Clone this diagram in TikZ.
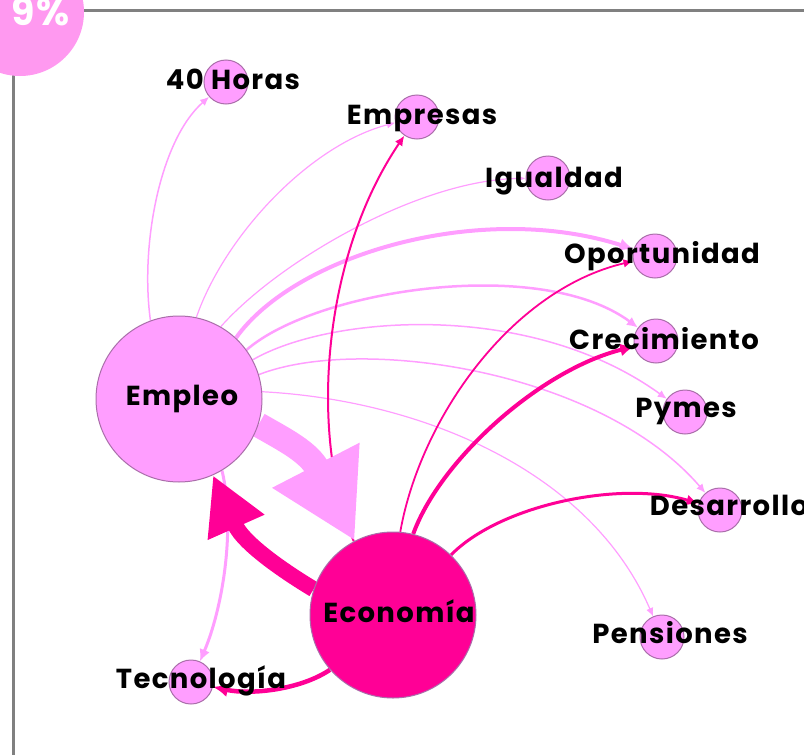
\documentclass[tikz,border=0pt]{standalone}
\usepackage{fontspec}
\newfontfamily\netfont{Poppins}[LetterSpace=5]
\usetikzlibrary{arrows.meta}
\pgfdeclarelayer{fondo}
\pgfsetlayers{fondo,main}

\definecolor{rosa}{RGB}{255,158,255}
\definecolor{fucsia}{RGB}{255,0,150}
\definecolor{borde}{RGB}{170,110,170}
\definecolor{marco}{RGB}{128,128,128}
\definecolor{insignia}{RGB}{255,153,240}

\begin{document}
\begin{tikzpicture}[
        x=1pt, y=-1pt, % координаты в пикселях, ось y вниз
        nucleo/.style={circle, draw=borde, line width=1pt, minimum size=166pt, inner sep=0pt}, % большие узлы
        tema/.style={circle, draw=borde, line width=1pt, fill=rosa, minimum size=44pt, inner sep=0pt}, % малые узлы
        rotulo/.style={anchor=base, inner sep=0pt, font=\netfont\bfseries\fontsize{27.5}{30}\selectfont},
        punta/.style={-{Latex[length=6pt 2, width=5pt 2]}},
        claro/.style={draw=rosa, punta},
        oscuro/.style={draw=fucsia, punta},
    ]
    \useasboundingbox (0,0) rectangle (804,755);

    % рамка и значок
    \draw[marco, line width=3pt] (804,10) -- (13,10) -- (13,755);
    \node[circle, fill=insignia, minimum size=128pt, inner sep=0pt] (insignia) at (20,12) {};
    \node[white, anchor=base east, inner sep=0pt, font=\netfont\bfseries\fontsize{38}{40}\selectfont] (porcentaje) at (70,25) {9\%};

    % узлы
    \node[nucleo, fill=rosa] (empleo) at (179,399) {};
    \node[nucleo, fill=fucsia] (economia) at (393,615) {};
    \node[tema] (horas) at (226,82) {};
    \node[tema] (empresas) at (417,117) {};
    \node[tema] (igualdad) at (548,178) {};
    \node[tema] (oportunidad) at (655,256) {};
    \node[tema] (crecimiento) at (656,341) {};
    \node[tema] (pymes) at (685,412) {};
    \node[tema] (desarrollo) at (720,510) {};
    \node[tema] (pensiones) at (662,637) {};
    \node[tema] (tecnologia) at (191,682) {};

    \begin{pgfonlayer}{fondo}
        % от Empleo
        \draw[claro, line width=1.5pt] (empleo.110) .. controls (140,245) and (160,140) .. (horas);
        \draw[claro, line width=1.2pt] (empleo.78) .. controls (225,235) and (310,145) .. (empresas);
        \draw[claro, line width=1.2pt] (empleo.60) .. controls (280,260) and (420,180) .. (igualdad);
        \draw[claro, line width=4pt] (empleo.47) .. controls (295,255) and (480,200) .. (oportunidad);
        \draw[claro, line width=2.5pt] (empleo.36) .. controls (315,290) and (540,255) .. (crecimiento);
        \draw[claro, line width=1.5pt] (empleo.28) .. controls (330,315) and (530,300) .. (pymes);
        \draw[claro, line width=1.5pt] (empleo.17) .. controls (360,335) and (600,370) .. (desarrollo);
        \draw[claro, line width=1.2pt] (empleo.5) .. controls (420,400) and (590,470) .. (pensiones);
        \draw[claro, line width=3pt] (empleo.-59) .. controls (236,530) and (222,610) .. (tecnologia);
        % от Economía
        \draw[oscuro, line width=2pt] (economia.118) .. controls (310,440) and (320,260) .. (empresas);
        \draw[oscuro, line width=1.8pt] (economia.85) .. controls (420,420) and (510,290) .. (oportunidad);
        \draw[oscuro, line width=4pt] (economia.76) .. controls (440,460) and (540,370) .. (crecimiento);
        \draw[oscuro, line width=3pt] (economia.46) .. controls (500,505) and (620,480) .. (desarrollo);
        \draw[oscuro, line width=4.5pt] (economia.221) .. controls (300,690) and (250,695) .. (tecnologia);
        % толстые стрелки между большими узлами
        \draw[draw=rosa, line width=25pt, -{Triangle[length=85pt 0 0, width=92pt 0 0]}] (empleo.-18) .. controls (285,440) and (309,452) .. (economia);
        \draw[draw=fucsia, line width=16pt, -{Triangle[length=57pt 0 0, width=58pt 0 0]}] (economia.162) .. controls (290,575) and (244,545) .. (empleo);
    \end{pgfonlayer}

    % подписи
    \node[rotulo] (t-empleo) at (182,405) {Empleo};
    \node[rotulo] (t-economia) at (399,622) {Economía};
    \node[rotulo] (t-horas) at (233,89) {40 Horas};
    \node[rotulo] (t-empresas) at (422,124) {Empresas};
    \node[rotulo] (t-igualdad) at (554,187) {Igualdad};
    \node[rotulo] (t-oportunidad) at (662,263) {Oportunidad};
    \node[rotulo] (t-crecimiento) at (664,349) {Crecimiento};
    \node[rotulo] (t-pymes) at (686,417) {Pymes};
    \node[rotulo] (t-desarrollo) at (729,515) {Desarrollo};
    \node[rotulo] (t-pensiones) at (670,643) {Pensiones};
    \node[rotulo] (t-tecnologia) at (201,688) {Tecnología};
\end{tikzpicture}
\end{document}
